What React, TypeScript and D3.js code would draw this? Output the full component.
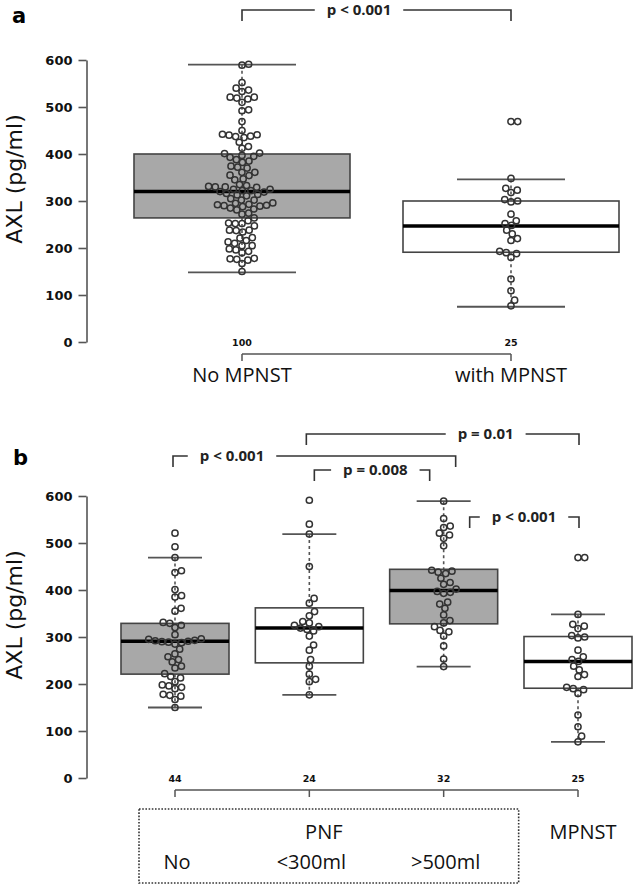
import * as d3 from 'd3';
import { useEffect, useRef } from 'react';

const pnfNo = [150, 167, 174, 176, 178, 190, 193, 196, 198, 205, 213, 216, 222, 234, 238, 247, 252, 258, 264, 274, 285, 288,
    289, 290, 291, 292, 293, 295, 296, 305, 320, 325, 329, 331, 355, 361, 385, 388, 401, 437, 441, 469, 492, 521];
const pnfSmall = [177, 205, 210, 221, 238, 252, 272, 283, 302, 313, 316, 319, 322, 325, 330, 333, 345, 354, 372, 382, 450, 519, 540, 591];
const pnfLarge = [237, 253, 281, 302, 311, 314, 322, 330, 335, 347, 361, 370, 374, 393, 395, 397, 402, 412, 416, 425, 435, 438, 440, 442,
    494, 510, 517, 521, 533, 536, 552, 589];
const mpnst = [77, 89, 109, 134, 180, 188, 190, 193, 216, 220, 230, 238, 248, 252, 258, 272, 298, 300, 303, 318, 323, 327, 348, 469, 469];

// panel a
const groupsA = ["No MPNST", "with MPNST"];
const countsA = [100, 25];
const q1A = [264, 191];
const medA = [320, 247];
const q3A = [400, 300];
const loA = [148, 75];
const hiA = [590, 346];

// panel b
const groupsB = ["No", "<300ml", ">500ml", "MPNST"];
const countsB = [44, 24, 32, 25];
const q1B = [221, 245, 328, 191];
const medB = [291, 319, 399, 248];
const q3B = [329, 362, 444, 301];
const loB = [150, 177, 237, 77];
const hiB = [469, 519, 589, 348];

const yTicks = [0, 100, 200, 300, 400, 500, 600];
const pLabelsB = ["p < 0.001", "p = 0.01", "p = 0.008", "p < 0.001"];
const pPairsB = [[0, 2], [1, 3], [1, 2], [2, 3]];

const GRAY = "#a8a8a8";
const INK = "#333";

// simple swarm layout, top value first
function swarm( ys: number[], d: number ) {
    const idx = ys.map( ( y, i ) => i ).sort( ( a, b ) => ys[b] - ys[a] );
    const placed: { x: number, y: number }[] = [];
    const out: number[] = new Array( ys.length );
    idx.forEach( i => {
        const y = ys[i];
        const cands = [0];
        placed.forEach( q => {
            const dy = Math.abs( y - q.y );
            if ( dy < d ) {
                const dx = Math.sqrt( d * d - dy * dy );
                cands.push( q.x + dx, q.x - dx );
            }
        } );
        const ok = cands.filter( c => placed.every( q => ( c - q.x ) ** 2 + ( y - q.y ) ** 2 >= d * d - 0.01 ) );
        ok.sort( ( a, b ) => Math.abs( a ) - Math.abs( b ) );
        out[i] = ok[0];
        placed.push( { x: ok[0], y } );
    } );
    return out;
}

function panel( svg, opt ) {
    const { y, x, groups, data, q1, med, q3, lo, hi, counts, bw, fills } = opt;
    const g = svg.append( "g" );

    g.append( "g" ).attr( "transform", "translate(86.5,0)" )
        .call( d3.axisLeft( y ).tickValues( yTicks ).tickSize( 8 ).tickPadding( 6 ).tickSizeOuter( 0 ) )
        .call( s => {
            s.selectAll( "path, line" ).attr( "stroke", "#555" ).attr( "stroke-width", 1.6 );
            s.selectAll( "text" ).attr( "font-family", "DejaVu Sans" ).attr( "font-weight", "bold" )
                .attr( "font-size", 13 ).attr( "fill", "#111" );
        } );

    g.append( "text" )
        .attr( "transform", `translate(22,${( y( 0 ) + y( 600 ) ) / 2 - 22}) rotate(-90)` )
        .attr( "text-anchor", "middle" ).attr( "font-family", "DejaVu Sans" ).attr( "font-size", 22 )
        .attr( "fill", "#111" ).text( "AXL (pg/ml)" );

    groups.forEach( ( k, i ) => {
        const cx = x( k );
        const gg = g.append( "g" );
        gg.append( "line" ).attr( "x1", cx ).attr( "x2", cx ).attr( "y1", y( hi[i] ) ).attr( "y2", y( q3[i] ) )
            .attr( "stroke", "#555" ).attr( "stroke-width", 1.6 ).attr( "stroke-dasharray", "3,3" );
        gg.append( "line" ).attr( "x1", cx ).attr( "x2", cx ).attr( "y1", y( q1[i] ) ).attr( "y2", y( lo[i] ) )
            .attr( "stroke", "#555" ).attr( "stroke-width", 1.6 ).attr( "stroke-dasharray", "3,3" );
        [hi[i], lo[i]].forEach( v => {
            gg.append( "line" ).attr( "x1", cx - bw / 4 ).attr( "x2", cx + bw / 4 ).attr( "y1", y( v ) ).attr( "y2", y( v ) )
                .attr( "stroke", "#555" ).attr( "stroke-width", 1.8 );
        } );
        gg.append( "rect" ).attr( "x", cx - bw / 2 ).attr( "y", y( q3[i] ) )
            .attr( "width", bw ).attr( "height", y( q1[i] ) - y( q3[i] ) )
            .attr( "fill", fills[i] ).attr( "stroke", "#444" ).attr( "stroke-width", 1.6 );
        gg.append( "line" ).attr( "x1", cx - bw / 2 ).attr( "x2", cx + bw / 2 )
            .attr( "y1", y( med[i] ) ).attr( "y2", y( med[i] ) )
            .attr( "stroke", "#000" ).attr( "stroke-width", 3.5 );

        const ys = data[i].map( v => y( v ) );
        const xs = swarm( ys, 6.7 );
        gg.selectAll( "circle" ).data( ys ).enter().append( "circle" )
            .attr( "cx", ( d, j ) => cx + xs[j] ).attr( "cy", d => d ).attr( "r", 3.1 )
            .attr( "fill", "none" ).attr( "stroke", INK ).attr( "stroke-width", 1.5 );

        g.append( "text" ).attr( "x", cx ).attr( "y", y( 0 ) + 4 ).attr( "text-anchor", "middle" )
            .attr( "font-family", "DejaVu Sans" ).attr( "font-weight", "bold" ).attr( "font-size", 9.5 )
            .attr( "fill", "#111" ).text( counts[i] );
    } );

    // bracket under the counts
    const x0 = x( groups[0] ), x1 = x( groups[groups.length - 1] ), by = y( 0 ) + 12;
    g.append( "line" ).attr( "x1", x0 ).attr( "x2", x1 ).attr( "y1", by ).attr( "y2", by )
        .attr( "stroke", "#555" ).attr( "stroke-width", 1.5 );
    groups.forEach( k => {
        g.append( "line" ).attr( "x1", x( k ) ).attr( "x2", x( k ) ).attr( "y1", by ).attr( "y2", by + 7 )
            .attr( "stroke", "#555" ).attr( "stroke-width", 1.5 );
    } );
    return g;
}

function pBracket( svg, x1, x2, ly, tx, label ) {
    const t = svg.append( "text" ).attr( "x", tx ).attr( "y", ly + 5 ).attr( "text-anchor", "middle" )
        .attr( "font-family", "Open Sans" ).attr( "font-weight", "bold" ).attr( "font-size", 15 )
        .attr( "fill", "#222" ).text( label );
    const w = ( t.node() as SVGTextElement ).getComputedTextLength();
    const gl = tx - w / 2 - 12, gr = tx + w / 2 + 12;
    svg.append( "path" )
        .attr( "d", `M${x1},${ly + 11}V${ly}H${gl}M${gr},${ly}H${x2}V${ly + 11}` )
        .attr( "fill", "none" ).attr( "stroke", INK ).attr( "stroke-width", 1.6 );
}

function label( svg, x, y, txt, size ) {
    svg.append( "text" ).attr( "x", x ).attr( "y", y ).attr( "text-anchor", "middle" )
        .attr( "font-family", "Open Sans" ).attr( "font-size", size ).attr( "fill", "#111" ).text( txt );
}

function makeChart( el: SVGSVGElement ) {
    const svg = d3.select( el );
    svg.selectAll( "*" ).remove();

    // ---- panel a
    const yA = d3.scaleLinear().domain( [0, 600] ).range( [342, 60] );
    const xA = d3.scalePoint<string>().domain( groupsA ).range( [242, 511] );
    panel( svg, {
        y: yA, x: xA, groups: groupsA, data: [pnfNo.concat( pnfSmall, pnfLarge ), mpnst],
        q1: q1A, med: medA, q3: q3A, lo: loA, hi: hiA, counts: countsA, bw: 216, fills: [GRAY, "#fff"]
    } );
    pBracket( svg, xA( groupsA[0] ), xA( groupsA[1] ), 10, 359, "p < 0.001" );
    groupsA.forEach( k => label( svg, xA( k ), yA( 0 ) + 40, k, 20 ) );
    svg.append( "text" ).attr( "x", 12 ).attr( "y", 23 ).attr( "font-family", "DejaVu Sans" )
        .attr( "font-weight", "bold" ).attr( "font-size", 21 ).text( "a" );

    // ---- panel b
    const yB = d3.scaleLinear().domain( [0, 600] ).range( [778, 496] );
    const xB = d3.scalePoint<string>().domain( groupsB ).range( [175, 578] );
    panel( svg, {
        y: yB, x: xB, groups: groupsB, data: [pnfNo, pnfSmall, pnfLarge, mpnst],
        q1: q1B, med: medB, q3: q3B, lo: loB, hi: hiB, counts: countsB, bw: 108,
        fills: [GRAY, "#fff", GRAY, "#fff"]
    } );
    svg.append( "text" ).attr( "x", 13 ).attr( "y", 465 ).attr( "font-family", "DejaVu Sans" )
        .attr( "font-weight", "bold" ).attr( "font-size", 21 ).text( "b" );

    const xb = i => xB( groupsB[i] );
    // bracket layout: [left offset, right offset, line y, text x]
    const lay = [[-2, 12, 456, xb( 0 ) + 57], [-3, 1, 434, xb( 2 ) + 42], [5, -14, 470, xb( 1 ) + 66], [26, 1, 517, xb( 3 ) - 54]];
    pPairsB.forEach( ( [a, b], i ) => {
        const [d1, d2, ly, tx] = lay[i];
        pBracket( svg, xb( a ) + d1, xb( b ) + d2, ly, tx, pLabelsB[i] );
    } );

    // dotted PNF box and group names
    svg.append( "rect" ).attr( "x", xb( 0 ) - 36 ).attr( "y", 809 )
        .attr( "width", xb( 2 ) + 75 - ( xb( 0 ) - 36 ) ).attr( "height", 74 )
        .attr( "fill", "none" ).attr( "stroke", INK ).attr( "stroke-width", 1.6 ).attr( "stroke-dasharray", "1.6,1.6" );
    label( svg, ( xb( 0 ) - 36 + xb( 2 ) + 75 ) / 2 - 5, 839, "PNF", 20 );
    [0, 1, 2].forEach( i => label( svg, xb( i ) + 2, 869, groupsB[i], 20 ) );
    label( svg, xb( 3 ) + 5, 839, groupsB[3], 20 );
}

export default function App() {
    const ref = useRef<SVGSVGElement>( null );
    useEffect( () => {
        if ( ref.current ) makeChart( ref.current );
    } );
    return (
        <svg ref={ref} width={635} height={886}
            style={{ position: "absolute", left: 0, top: 0, background: "#fff" }} />
    );
}
